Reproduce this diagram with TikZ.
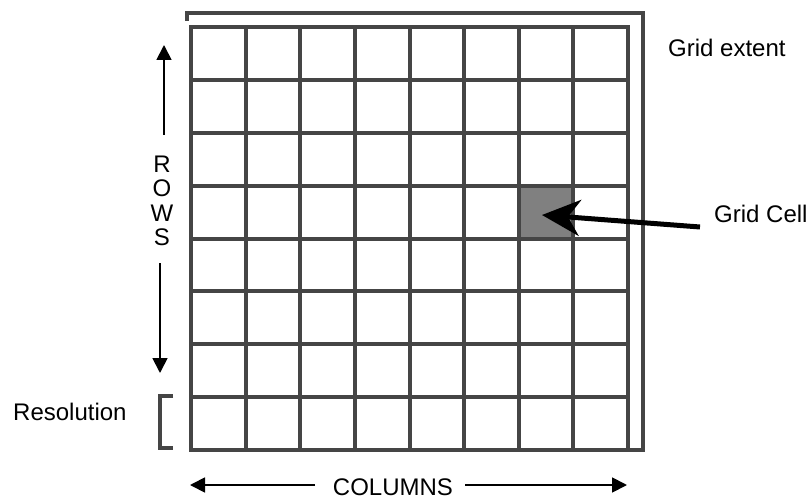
\documentclass[tikz,border=0pt]{standalone}
\usepackage{fontspec}
\setmainfont{Liberation Sans}
\usetikzlibrary{arrows.meta}
\definecolor{gridline}{rgb}{0.27,0.27,0.27}
\definecolor{cellfill}{rgb}{0.5,0.5,0.5}
\begin{document}
\begin{tikzpicture}[x=1pt,y=-1pt,
  gridstroke/.style={draw=gridline,line width=4pt,line join=miter},
  lbl/.style={inner sep=0pt,font=\fontsize{24}{24.5}\selectfont},
  thinarrow/.style={draw=black,line width=1.8pt,-{Triangle[length=15pt,width=15pt]}},
  bigarrow/.style={draw=black,line width=5pt,-{Stealth[length=38pt,width=36pt,inset=12pt]}}
  ]
\useasboundingbox (0,0) rectangle (806,500);
% grid cell fill
\fill[cellfill] (519.4,185.6) rectangle (574,238.5);
% grid lines
\foreach \i in {1,...,7} {
  \draw[gridstroke] ({191+\i*54.625},27) -- ({191+\i*54.625},450);
  \draw[gridstroke] (191,{27+\i*52.875}) -- (628,{27+\i*52.875});
}
\draw[gridstroke] (191,27) rectangle (628,450);
% grid extent frame
\draw[gridstroke] (187,21) -- (187,13) -- (643,13) -- (643,450) -- (628,450);
% resolution bracket
\draw[gridstroke] (173,396) -- (160,396) -- (160,448) -- (173,448);
% labels
\node[lbl,anchor=base west] (extent) at (668,57) {Grid extent};
\node[lbl,anchor=base west] (resolution) at (13,420) {Resolution};
\node[lbl,anchor=base west] (cell) at (714,222) {Grid Cell};
\node[lbl,anchor=base] (columns) at (393,495) {COLUMNS};
\node[lbl,align=center] (rows) at (162,201) {R\\O\\W\\S};
% arrows
\coordinate (colLs) at (315,485);
\coordinate (colL) at (190,485);
\coordinate (colRs) at (465,485);
\coordinate (colR) at (627,485);
\draw[thinarrow] (colLs) -- (colL);
\draw[thinarrow] (colRs) -- (colR);
\coordinate (rowUs) at (164,135);
\coordinate (rowU) at (164,45);
\coordinate (rowDs) at (160,263);
\coordinate (rowD) at (160,373);
\draw[thinarrow] (rowUs) -- (rowU);
\draw[thinarrow] (rowDs) -- (rowD);
\coordinate (cellTail) at (700,227);
\coordinate (cellTip) at (542,215);
\draw[bigarrow] (cellTail) -- (cellTip);
\end{tikzpicture}
\end{document}
